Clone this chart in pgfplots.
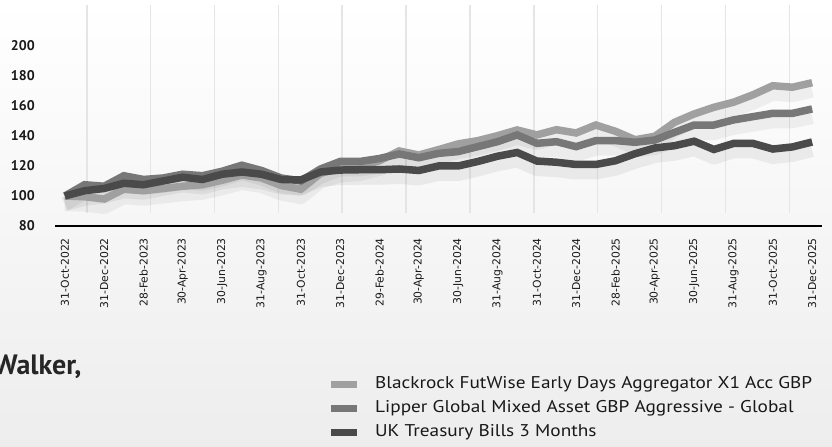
\documentclass[border=0pt]{standalone}
\usepackage{pgfplots}
\pgfplotsset{compat=1.18}
\usepackage{pgfplotstable}
\usepackage{fontspec}
\setmainfont{PT Sans}
\newfontfamily\dejavu{DejaVu Sans}
\newfontfamily\legfont[FakeStretch=1.135]{PT Sans}
\definecolor{cB}{HTML}{A0A0A0}
\definecolor{cL}{HTML}{777777}
\definecolor{cU}{HTML}{4A4A4A}
\pgfplotstableread{
m B L U
0 100 100 100
1 99.5 107.5 103.5
2 98 106.5 105
3 104.5 113.5 108.5
4 103.5 111 107.5
5 105 112 110
6 106.5 114.5 112.5
7 107.5 113.5 111
8 110.5 116.5 114.5
9 114 120.5 116
10 112 117 114.5
11 107 112 111
12 104.5 110 110.7
13 115 118 116
14 119 123 117.3
15 120 123 117.5
16 123.5 125 117.5
17 130 128 118
18 127.3 125.5 117
19 130.9 128.4 120
20 134.7 129.6 120
21 136.9 132.9 123
22 140.2 136.2 126.5
23 144 140.7 129
24 140.7 135.1 123.3
25 144.2 136.2 122.5
26 142 132.9 121
27 147.3 136.9 121
28 143.1 136.9 123.5
29 137.5 135.8 128.2
30 139.8 137.3 132
31 149.1 142.4 133.5
32 154.7 147.3 136.5
33 159.1 147.3 131
34 162.5 150.7 135
35 167.5 152.9 135
36 173.5 155.1 131.3
37 172.5 155.1 132.7
38 175.5 158 136
}\datatable
\begin{document}
\begin{tikzpicture}
\useasboundingbox (0,0) rectangle (832bp,447bp);
\shade[top color=white, bottom color=black!7] (0,0) rectangle (832bp,447bp);
\node[anchor=base east, font=\bfseries\fontsize{28bp}{32bp}\selectfont, text=black!85] at (85bp,72bp) {Walker,};
\begin{axis}[
  scale only axis, width=767bp, height=221bp,
  at={(55bp,221bp)}, anchor=south west,
  xmin=-0.5, xmax=38.5, ymin=80, ymax=227.3,
  axis x line*=bottom, axis y line*=left,
  x axis line style={-, black, line width=1.2bp},
  y axis line style={draw=none},
  major tick length=0pt,
  ytick={80,100,...,200},
  yticklabel style={font=\bfseries\fontsize{14bp}{16bp}\selectfont, anchor=east, inner sep=0pt, xshift=-20bp, text=black!90},
  /pgf/number format/assume math mode=true,
  xtick={0,2,...,38},
  xticklabels={31-Oct-2022, 31-Dec-2022, 28-Feb-2023, 30-Apr-2023, 30-Jun-2023, 31-Aug-2023, 31-Oct-2023, 31-Dec-2023, 29-Feb-2024, 30-Apr-2024, 30-Jun-2024, 31-Aug-2024, 31-Oct-2024, 31-Dec-2024, 28-Feb-2025, 30-Apr-2025, 30-Jun-2025, 31-Aug-2025, 31-Oct-2025, 31-Dec-2025},
  xticklabel style={font=\dejavu\fontsize{10.8bp}{12bp}\selectfont, rotate=90, anchor=east, inner sep=0pt, text=black!90},
  xticklabel shift=12bp,
  legend cell align=left,
  legend image code/.code={\path[fill, draw=none, line width=0pt] (0bp,-3.5bp) rectangle (26bp,3.5bp);},
  legend style={at={(0.3598,-0.683)}, anchor=north west, draw=none, fill=none, inner sep=0pt,
    row sep=9bp, font=\legfont\fontsize{17bp}{19bp}\selectfont, text=black!90,
    nodes={inner sep=0pt, text height=11bp, text depth=4bp},
    /tikz/every odd column/.append style={column sep=18bp}},
  clip=false,
]
\pgfplotsinvokeforeach{1.12,4.36,7.6,10.85,14.1,17.34,20.6,23.85,27.1,30.35,33.6,36.84}{
  \draw[black!10, line width=1.3bp] (axis cs:#1,88.7) -- (axis cs:#1,227.3);
}
% soft shadows
\addplot[forget plot, black, opacity=0.05, line width=14bp, yshift=-8bp, line join=round] table[x=m, y=B] {\datatable};
\addplot[forget plot, black, opacity=0.05, line width=14bp, yshift=-8bp, line join=round] table[x=m, y=L] {\datatable};
\addplot[forget plot, black, opacity=0.06, line width=14bp, yshift=-8bp, line join=round] table[x=m, y=U] {\datatable};
% series
\addplot[color=cB, line width=7.5bp, line join=miter, miter limit=3] table[x=m, y=B] {\datatable};
\addlegendentry{Blackrock FutWise Early Days Aggregator X1 Acc GBP}
\addplot[color=cL, line width=7.5bp, line join=miter, miter limit=3] table[x=m, y=L] {\datatable};
\addlegendentry{Lipper Global Mixed Asset GBP Aggressive - Global}
\addplot[color=cU, line width=7.5bp, line join=miter, miter limit=3] table[x=m, y=U] {\datatable};
\addlegendentry{UK Treasury Bills 3 Months}
\end{axis}
\end{tikzpicture}
\end{document}
